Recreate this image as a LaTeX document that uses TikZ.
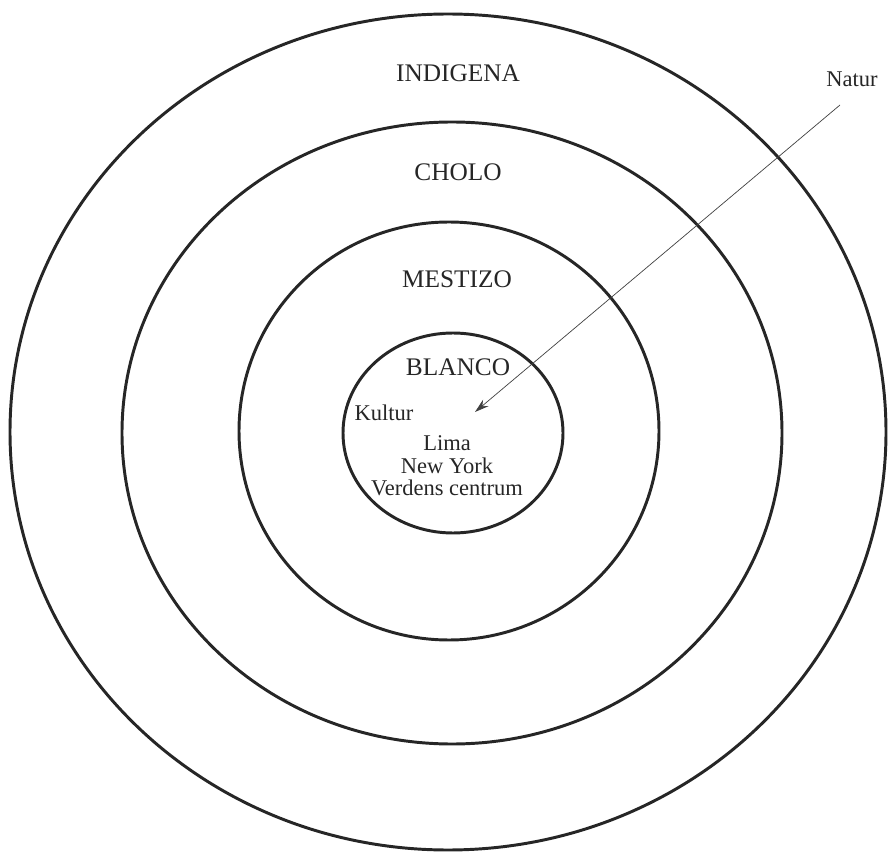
\documentclass[tikz,border=0pt]{standalone}
\usepackage{fontspec}
\setmainfont{Liberation Serif}
\usetikzlibrary{arrows.meta,positioning}

\begin{document}
\begin{tikzpicture}[x=0.025cm, y=-0.025cm,
  ring/.style={line width=2.1pt, draw=black!85},
  klasse/.style={font=\fontsize{18}{20}\selectfont, text=black!85, inner sep=0pt},
  sted/.style={font=\fontsize{16}{16}\selectfont, text=black!85, inner sep=0pt, align=center},
  arr/.style={-{Stealth[length=10pt, width=6pt]}, line width=0.5pt, draw=black!75}]
  \useasboundingbox (0,0) rectangle (889,853);
  % ringene
  \draw[ring] (448,432) ellipse [x radius=438, y radius=418];
  \draw[ring] (452,433) ellipse [x radius=330, y radius=311];
  \draw[ring] (449,431) ellipse [x radius=210, y radius=209];
  \draw[ring] (453,433) ellipse [x radius=110, y radius=100];
  % tekster
  \node[klasse] (indigena) at (458,73) {INDIGENA};
  \node[klasse] (cholo) at (458,172) {CHOLO};
  \node[klasse] (mestizo) at (457,279) {MESTIZO};
  \node[klasse] (blanco) at (458,367) {BLANCO};
  \node[sted] (kultur) at (384,413) {Kultur};
  \node[sted] (byer) at (447,466) {Lima\\New York\\Verdens centrum};
  \node[sted] (natur) at (852,79) {Natur};
  \coordinate (fra) at (840,105);
  \coordinate (til) at (475,412);
  \draw[arr] (fra) -- (til);
\end{tikzpicture}
\end{document}
